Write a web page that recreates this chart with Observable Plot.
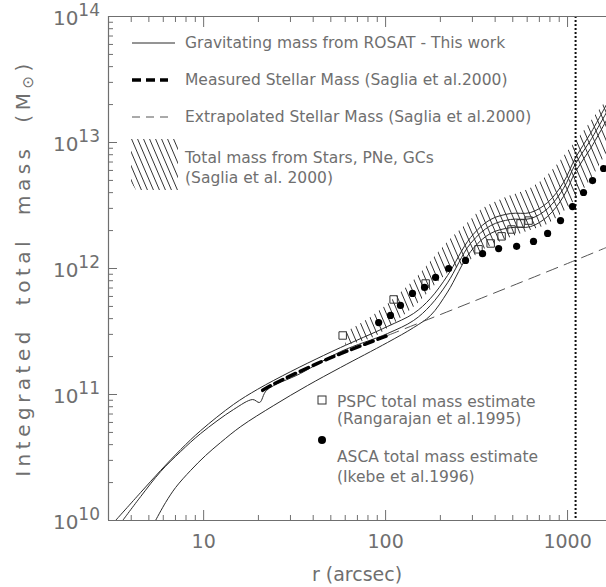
<!DOCTYPE html>
<html><head><meta charset="utf-8">
<script src="https://cdn.jsdelivr.net/npm/d3@7"></script>
<script src="https://cdn.jsdelivr.net/npm/@observablehq/plot@0.6"></script>
<style>
html,body{margin:0;padding:0;background:#fff;}
#chart svg{display:block;}
</style>
</head><body><div id="chart"></div>
<script>
// ---- Data ----
// Gravitating mass from ROSAT (three curves: upper, middle, lower)
const rosatUpperR = [3.28, 4.51, 5.81, 7.48, 9.63, 14.6, 19.8, 30.1, 45.6, 56.6, 102.6, 142.6, 176.6, 219, 293, 378, 486, 626, 777, 950, 1107, 1337, 1637];
const rosatUpperM = [1.0e10, 1.67e10, 2.5e10, 3.66e10, 5.17e10, 8.34e10, 1.10e11, 1.52e11, 2.04e11, 2.36e11, 3.47e11, 4.4e11, 5.8e11, 8.8e11, 1.76e12, 2.45e12, 2.73e12, 2.78e12, 3.34e12, 4.82e12, 7.6e12, 1.18e13, 2.0e13];
const rosatMidR = [3.59, 4.51, 5.81, 7.48, 9.63, 14.6, 18.6, 20.3, 22.2, 34.1, 56.6, 102.6, 142.6, 176.6, 219, 293, 378, 486, 626, 777, 950, 1107, 1337, 1637];
const rosatMidM = [1.0e10, 1.55e10, 2.45e10, 3.53e10, 4.9e10, 7.6e10, 9.12e10, 8.65e10, 1.08e11, 1.47e11, 2.19e11, 3.05e11, 3.87e11, 5.1e11, 7.7e11, 1.58e12, 2.19e12, 2.45e12, 2.49e12, 2.99e12, 4.32e12, 6.81e12, 1.04e13, 1.73e13];
const rosatLowerR = [5.44, 6.18, 7.02, 8.49, 10.25, 12.4, 16.0, 24.3, 37.3, 56.6, 102.6, 142.6, 176.6, 219, 293, 378, 486, 626, 777, 950, 1107, 1337, 1637];
const rosatLowerM = [1.0e10, 1.39e10, 1.83e10, 2.5e10, 3.28e10, 4.16e10, 5.57e10, 8.19e10, 1.18e11, 1.64e11, 2.59e11, 3.40e11, 4.24e11, 6.5e11, 1.36e12, 1.90e12, 2.11e12, 2.15e12, 2.59e12, 3.73e12, 5.89e12, 8.96e12, 1.50e13];

// Measured stellar mass (Saglia et al. 2000)
const measuredR = [21.1, 24.0, 42.0, 56.6, 102.6];
const measuredM = [1.08e11, 1.20e11, 1.76e11, 2.11e11, 2.94e11];
// Extrapolated stellar mass
const extrapR = [102.6, 293, 1037, 1637];
const extrapM = [2.94e11, 5.37e11, 1.12e12, 1.47e12];

// Total mass from stars, PNe, GCs (hatched band)
const bandR  = [60.3, 85.9, 142.6, 219, 293, 332, 445, 626, 777, 1037, 1337, 1637];
const bandHi = [3.10e11, 4.24e11, 8.0e11, 1.61e12, 2.40e12, 2.88e12, 3.59e12, 4.32e12, 5.47e12, 8.96e12, 1.44e13, 2.15e13];
const bandLo = [2.45e11, 2.83e11, 4.9e11, 9.1e11, 1.16e12, 1.36e12, 1.67e12, 2.0e12, 2.23e12, 3.16e12, 4.99e12, 8.18e12];

// ASCA total mass estimate (Ikebe et al. 1996)
const ascaR = [91.6, 106.4, 120.7, 140.5, 163.7, 188.2, 222, 275, 341, 418, 525, 650, 777, 915, 1065, 1224, 1372, 1578];
const ascaM = [3.72e11, 4.24e11, 5.09e11, 6.34e11, 7.07e11, 8.49e11, 1.0e12, 1.16e12, 1.31e12, 1.44e12, 1.50e12, 1.64e12, 1.90e12, 2.40e12, 3.10e12, 4.01e12, 4.99e12, 6.22e12];

// PSPC total mass estimate (Rangarajan et al. 1995)
const pspcR = [58.1, 110.7, 166, 324, 378, 434, 492, 552, 611];
const pspcM = [2.94e11, 5.68e11, 7.6e11, 1.42e12, 1.58e12, 1.80e12, 2.04e12, 2.28e12, 2.40e12];

// vertical dotted marker radius
const markerR = [1107];

// Axes
const xDomain = [3, 1637];
const yDomain = [1e10, 1e14];
const xMajor = [10, 100, 1000];
const xMinor = [4, 5, 6, 7, 8, 9, 20, 30, 40, 50, 60, 70, 80, 90, 200, 300, 400, 500, 600, 700, 800, 900];
const yExponents = [10, 11, 12, 13, 14];
const yMinorMult = [2, 3, 4, 5, 6, 7, 8, 9];

const legendItems = [
  "Gravitating mass from ROSAT - This work",
  "Measured Stellar Mass (Saglia et al.2000)",
  "Extrapolated Stellar Mass (Saglia et al.2000)",
  "Total mass from Stars, PNe, GCs",
  "(Saglia et al. 2000)"
];
const legend2Items = ["PSPC total mass estimate", "(Rangarajan et al.1995)", "ASCA total mass estimate", "(Ikebe et al.1996)"];

// ---- Build tables ----
const pts = (rs, ms) => rs.map((r, i) => ({r, m: ms[i]}));
const upper = pts(rosatUpperR, rosatUpperM);
const mid = pts(rosatMidR, rosatMidM);
const lower = pts(rosatLowerR, rosatLowerM);
const measured = pts(measuredR, measuredM);
const extrap = pts(extrapR, extrapM);
const band = bandR.map((r, i) => ({r, lo: bandLo[i], hi: bandHi[i]}));
const asca = pts(ascaR, ascaM);
const pspc = pts(pspcR, pspcM);
const yMajor = yExponents.map(e => Math.pow(10, e));
const yMinor = yExponents.slice(0, -1).flatMap(e => yMinorMult.map(k => k * Math.pow(10, e)));

const AX = "#6f6f6f";
const LN = "#2a2a2a";
const FONT = "DejaVu Sans, sans-serif";

const plot = Plot.plot({
  width: 606, height: 587,
  marginLeft: 108, marginRight: 0, marginTop: 16, marginBottom: 67,
  x: {type: "log", domain: xDomain},
  y: {type: "log", domain: yDomain},
  style: {fontFamily: FONT, color: AX, background: "white", overflow: "visible"},
  marks: [
    Plot.areaY(band, {x: "r", y1: "lo", y2: "hi", fill: "url(#hatch)", curve: "catmull-rom", clip: true}),
    Plot.line(upper, {x: "r", y: "m", stroke: LN, strokeWidth: 1, curve: "catmull-rom", clip: true}),
    Plot.line(mid, {x: "r", y: "m", stroke: LN, strokeWidth: 1, curve: "catmull-rom", clip: true}),
    Plot.line(lower, {x: "r", y: "m", stroke: LN, strokeWidth: 1, curve: "catmull-rom", clip: true}),
    Plot.line(measured, {x: "r", y: "m", stroke: "#000", strokeWidth: 3.5, strokeDasharray: "9,5", curve: "catmull-rom"}),
    Plot.line(extrap, {x: "r", y: "m", stroke: "#555", strokeWidth: 1, strokeDasharray: "12,7", curve: "catmull-rom", clip: true}),
    Plot.ruleX(markerR, {stroke: "#111", strokeWidth: 2, strokeDasharray: "2,2"}),
    Plot.dot(pspc, {x: "r", y: "m", symbol: "square", r: 4.2, stroke: "#333", strokeWidth: 1, fill: "none"}),
    Plot.dot(asca, {x: "r", y: "m", r: 3.6, fill: "#000", stroke: "none"}),
    // frame lines
    Plot.ruleX([xDomain[0]], {stroke: AX, strokeWidth: 1.2}),
    Plot.ruleY([yDomain[0], yDomain[1]], {stroke: AX, strokeWidth: 1.2}),
    // inward ticks
    Plot.axisX({anchor: "bottom", ticks: xMajor, tickSize: -10, tickFormat: () => "", label: null, stroke: AX}),
    Plot.axisX({anchor: "bottom", ticks: xMinor, tickSize: -5, tickFormat: () => "", label: null, stroke: AX}),
    Plot.axisX({anchor: "top", ticks: xMajor, tickSize: -10, tickFormat: () => "", label: null, stroke: AX}),
    Plot.axisX({anchor: "top", ticks: xMinor, tickSize: -5, tickFormat: () => "", label: null, stroke: AX}),
    Plot.axisX({anchor: "bottom", ticks: xMajor, tickSize: 0, tickPadding: 14, tickFormat: d => String(d), label: null, fontSize: 19, fill: AX}),
    Plot.axisY({anchor: "left", ticks: yMajor, tickSize: -9, tickFormat: () => "", label: null, stroke: AX}),
    Plot.axisY({anchor: "left", ticks: yMinor, tickSize: -5, tickFormat: () => "", label: null, stroke: AX})
  ]
});

document.getElementById("chart").appendChild(plot);
const svg = d3.select(plot);

// hatch pattern
const defs = svg.insert("defs", ":first-child");
const pat = defs.append("pattern").attr("id", "hatch").attr("patternUnits", "userSpaceOnUse")
  .attr("width", 6).attr("height", 14);
pat.append("path").attr("d", "M0,0L6,14M-6,0L0,14M6,0L12,14")
  .attr("stroke", "#333").attr("stroke-width", 1).attr("fill", "none");

const ys = plot.scale("y");

// y tick labels 10^n
const g = svg.append("g").attr("font-family", FONT).attr("fill", AX);
yExponents.forEach(e => {
  const yy = ys.apply(Math.pow(10, e));
  const t = g.append("text").attr("x", 100).attr("y", yy + 9).attr("text-anchor", "end").attr("font-size", 20);
  t.append("tspan").text("10");
  t.append("tspan").attr("dy", -9).attr("font-size", 17).text(String(e));
});

// axis titles
g.append("text").attr("x", 357).attr("y", 581).attr("text-anchor", "middle").attr("font-size", 19).text("r (arcsec)");
const yt = g.append("text").attr("transform", "translate(30,268) rotate(-90)").attr("text-anchor", "middle")
  .attr("font-size", 20).attr("letter-spacing", 4.5).attr("word-spacing", 11);
yt.append("tspan").text("Integrated total mass (M");
yt.append("tspan").attr("font-size", 15).attr("dy", 3).text("⊙");
yt.append("tspan").attr("dy", -3).text(")");

// legend (top)
const lg = svg.append("g").attr("font-family", FONT).attr("text-anchor", "start");
const rowY = [43, 80, 117];
lg.append("line").attr("x1", 132).attr("x2", 175).attr("y1", rowY[0]).attr("y2", rowY[0]).attr("stroke", LN).attr("stroke-width", 1);
lg.append("line").attr("x1", 132).attr("x2", 168).attr("y1", rowY[1]).attr("y2", rowY[1]).attr("stroke", "#000").attr("stroke-width", 3.5).attr("stroke-dasharray", "9,5");
lg.append("line").attr("x1", 132).attr("x2", 170).attr("y1", rowY[2]).attr("y2", rowY[2]).attr("stroke", "#555").attr("stroke-width", 1).attr("stroke-dasharray", "8,6");
lg.append("path").attr("d", "M131,139L176,139L178,145L178,190L136,190L131,182Z").attr("fill", "url(#hatch)");
const legTextY = [rowY[0], rowY[1], rowY[2], 158, 178];
legendItems.forEach((s, i) => {
  lg.append("text").attr("x", 185).attr("y", legTextY[i] + 5).attr("text-anchor", "start").attr("font-size", 15.5).attr("fill", AX).text(s);
});

// legend (bottom)
lg.append("rect").attr("x", 318).attr("y", 396).attr("width", 8).attr("height", 8).attr("fill", "none").attr("stroke", "#333");
lg.append("circle").attr("cx", 322).attr("cy", 440).attr("r", 4).attr("fill", "#000");
const leg2Y = [402, 419, 457, 477];
legend2Items.forEach((s, i) => {
  lg.append("text").attr("x", 337).attr("y", leg2Y[i] + 5).attr("text-anchor", "start").attr("font-size", 15.5).attr("fill", AX).text(s);
});
</script>
</body></html>
